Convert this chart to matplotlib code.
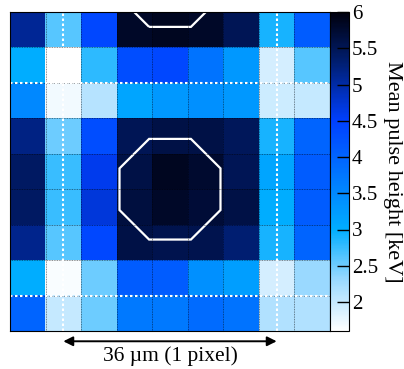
import numpy as np
import matplotlib
matplotlib.use("Agg")
import matplotlib.pyplot as plt
from matplotlib.colors import LinearSegmentedColormap
from matplotlib.patches import RegularPolygon

plt.rcParams['font.family'] = ['Liberation Serif', 'DejaVu Serif']
plt.rcParams['mathtext.fontset'] = 'stix'

# mean pulse height per pixel [keV], rows top -> bottom
row0 = [5.1, 2.6, 4.4, 5.8, 5.85, 5.8, 5.5, 2.9, 4.1]
row1 = [3.0, 1.6, 2.8, 4.3, 4.4, 3.8, 3.3, 1.9, 2.6]
row2 = [3.5, 1.7, 2.1, 3.1, 3.3, 3.4, 3.3, 1.95, 2.0]
row3 = [5.2, 2.5, 4.3, 5.5, 5.6, 5.6, 5.45, 2.9, 4.0]
row4 = [5.4, 2.75, 4.6, 5.6, 5.85, 5.75, 5.5, 3.1, 4.1]
row5 = [5.4, 2.75, 4.7, 5.65, 5.8, 5.7, 5.6, 3.0, 4.1]
row6 = [5.15, 2.6, 4.4, 5.6, 5.55, 5.55, 5.3, 2.9, 4.0]
row7 = [3.0, 1.65, 2.5, 4.1, 4.1, 3.4, 3.2, 1.9, 2.3]
row8 = [4.0, 2.0, 2.5, 3.7, 3.7, 3.9, 3.8, 2.15, 2.15]
vmin, vmax = 1.6, 6.0
cbar_ticks = [2, 2.5, 3, 3.5, 4, 4.5, 5, 5.5, 6]

# overlays (pixel units)
vlines = [1.5, 7.5]
hlines = [2.0, 8.0]
octagon_centers = [(4.5, 5.0), (4.5, -1.0)]
octagon_inradius = 1.42

data = np.array([row0, row1, row2, row3, row4, row5, row6, row7, row8])
ny, nx = data.shape

stops = [(1.6, (1, 1, 1)), (2.3, (0.6, 0.85, 1.0)), (3.0, (0.0, 0.68, 1.0)),
         (3.8, (0.0, 0.45, 1.0)), (4.5, (0.0, 0.25, 1.0)), (5.3, (0.0, 0.12, 0.45)),
         (6.0, (0.0, 0.0, 0.05))]
cmap = LinearSegmentedColormap.from_list(
    'pulse', [((v - vmin) / (vmax - vmin), c) for v, c in stops])

fig = plt.figure(figsize=(4.04, 3.69), dpi=100)
ax = fig.add_axes([10 / 404, 38 / 369, 320 / 404, 319 / 369])
cax = fig.add_axes([330 / 404, 38 / 369, 19 / 404, 319 / 369])

im = ax.imshow(data, cmap=cmap, vmin=vmin, vmax=vmax, extent=[0, nx, ny, 0],
               interpolation='nearest', aspect='auto')

for k in range(1, nx):
    ax.axvline(k, color='black', lw=0.6, ls=(0, (1, 1)), alpha=0.6)
for k in range(1, ny):
    ax.axhline(k, color='black', lw=0.6, ls=(0, (1, 1)), alpha=0.6)

for x in vlines:
    ax.axvline(x, color='white', lw=1.5, ls=(0, (1.2, 1.2)))
for y in hlines:
    ax.axhline(y, color='white', lw=1.5, ls=(0, (1.2, 1.2)))

R = octagon_inradius / np.cos(np.pi / 8)
for cx, cy in octagon_centers:
    ax.add_patch(RegularPolygon((cx, cy), numVertices=8, radius=R,
                                orientation=np.pi / 8, fill=False,
                                edgecolor='white', lw=1.6, clip_on=True))

ax.set_xlim(0, nx)
ax.set_ylim(ny, 0)
ax.set_xticks([])
ax.set_yticks([])
for s in ax.spines.values():
    s.set_linewidth(0.8)

ax.annotate('', xy=(vlines[0], ny + 0.29), xytext=(vlines[1], ny + 0.29),
            xycoords='data', annotation_clip=False,
            arrowprops=dict(arrowstyle='<|-|>', color='black', lw=1.4,
                            mutation_scale=14, shrinkA=0, shrinkB=0))
ax.text(4.5, ny + 0.7, '36 µm (1 pixel)', ha='center', va='center',
        fontsize=15.5, clip_on=False)

cb = fig.colorbar(im, cax=cax, ticks=cbar_ticks)
cb.ax.set_yticklabels(['2', '2.5', '3', '3.5', '4', '4.5', '5', '5.5', '6'])
cb.ax.tick_params(direction='in', length=9, width=1, labelsize=15, pad=2)
cb.outline.set_linewidth(0.8)
cb.set_label('Mean pulse height [keV]', rotation=270, fontsize=16, labelpad=17)

fig.savefig('out.png', dpi=100)
